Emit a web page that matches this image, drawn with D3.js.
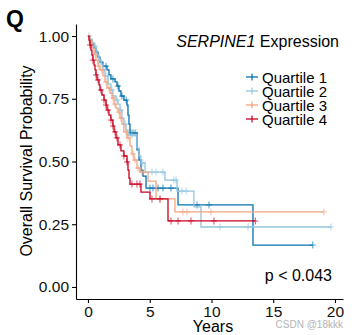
<!DOCTYPE html>
<html>
<head>
<meta charset="utf-8">
<script src="https://cdn.jsdelivr.net/npm/d3@7"></script>
<style>
  body { margin: 0; background: #fff; }
  svg text { font-family: "Liberation Sans", Arial, sans-serif; }
</style>
</head>
<body>
<div id="chart"></div>
<script>
// Kaplan-Meier steps per quartile: time (years) where survival drops, new survival value
const q1Time = [0, 0.16, 0.32, 0.49, 0.65, 0.81, 0.97, 1.21, 1.54, 1.70, 1.86, 2.19, 2.35, 2.51, 2.67, 2.91, 3.16, 3.24, 3.32, 3.40, 3.97, 4.13, 4.29, 4.45, 4.70, 7.29, 13.36];
const q1Surv = [1.0, 0.984, 0.968, 0.952, 0.936, 0.916, 0.896, 0.880, 0.865, 0.845, 0.829, 0.817, 0.801, 0.781, 0.761, 0.745, 0.725, 0.685, 0.649, 0.614, 0.546, 0.506, 0.466, 0.442, 0.394, 0.327, 0.167];
const q1Censor = [1.46, 2.02, 2.43, 2.75, 3.10, 3.48, 3.64, 3.81, 5.02, 5.26, 5.67, 6.07, 6.72, 8.83, 9.80, 18.2];

const q2Time = [0, 0.16, 0.32, 0.49, 0.65, 0.73, 0.89, 1.05, 1.21, 1.38, 1.62, 1.86, 2.02, 2.27, 2.43, 2.59, 2.75, 2.91, 3.08, 3.24, 3.97, 4.13, 4.29, 4.62, 6.23, 7.21, 8.58, 9.15];
const q2Surv = [1.0, 0.988, 0.972, 0.960, 0.944, 0.924, 0.904, 0.888, 0.865, 0.841, 0.809, 0.785, 0.761, 0.745, 0.729, 0.705, 0.673, 0.649, 0.625, 0.606, 0.554, 0.522, 0.494, 0.458, 0.426, 0.382, 0.319, 0.239];
const q2Censor = [0.08, 0.32, 0.57, 0.89, 1.30, 1.54, 1.94, 2.35, 2.67, 3.00, 3.32, 3.56, 4.45, 5.18, 5.51, 6.07, 6.96, 7.13, 7.61, 7.94, 10.69, 12.96, 19.68];

const q3Time = [0, 0.16, 0.32, 0.49, 0.65, 0.81, 0.97, 1.21, 1.38, 1.54, 1.78, 1.94, 2.11, 2.27, 2.43, 2.59, 2.75, 2.91, 3.16, 3.40, 3.56, 3.72, 3.97, 4.21, 4.86, 5.51, 7.04];
const q3Surv = [1.0, 0.976, 0.952, 0.928, 0.904, 0.880, 0.865, 0.841, 0.817, 0.793, 0.773, 0.753, 0.729, 0.713, 0.697, 0.673, 0.649, 0.618, 0.594, 0.562, 0.530, 0.506, 0.474, 0.458, 0.422, 0.351, 0.299];
const q3Censor = [0.24, 0.57, 0.89, 1.13, 1.46, 1.70, 2.02, 2.19, 2.51, 2.67, 3.08, 3.24, 3.64, 3.81, 4.05, 4.37, 5.83, 7.69, 8.02, 9.96, 19.1];

const q4Time = [0, 0.08, 0.16, 0.24, 0.32, 0.40, 0.49, 0.57, 0.65, 0.73, 0.89, 0.97, 1.13, 1.30, 1.46, 1.54, 1.70, 1.86, 2.02, 2.11, 2.27, 2.43, 2.67, 2.91, 3.16, 3.24, 3.32, 3.40, 4.29, 5.02, 6.48];
const q4Surv = [1.0, 0.984, 0.964, 0.944, 0.924, 0.904, 0.884, 0.865, 0.845, 0.825, 0.805, 0.785, 0.765, 0.745, 0.725, 0.705, 0.685, 0.665, 0.641, 0.618, 0.594, 0.566, 0.542, 0.522, 0.498, 0.466, 0.434, 0.410, 0.378, 0.351, 0.263];
const q4Censor = [0.16, 0.40, 0.65, 0.81, 1.05, 1.30, 1.46, 1.62, 1.86, 2.02, 2.19, 2.35, 2.59, 2.91, 3.16, 3.56, 3.97, 4.21, 5.18, 5.83, 6.72, 7.29, 8.34, 10.2, 13.55];

const groupNames = ["Quartile 1", "Quartile 2", "Quartile 3", "Quartile 4"];
const groupColors = ["#0571b0", "#92c5de", "#f4a582", "#ca0020"];
const xTicks = [0, 5, 10, 15, 20];
const yTicks = [0, 0.25, 0.5, 0.75, 1];

const groups = [
  {time: q1Time, surv: q1Surv, censor: q1Censor},
  {time: q2Time, surv: q2Surv, censor: q2Censor},
  {time: q3Time, surv: q3Surv, censor: q3Censor},
  {time: q4Time, surv: q4Surv, censor: q4Censor}
];

const W = 358, H = 335;
const svg = d3.select("#chart").append("svg").attr("width", W).attr("height", H);

// panel is slightly expanded beyond the data range, like ggplot
const x = d3.scaleLinear().domain([-0.97, 20.65]).range([76, 343]);
const y = d3.scaleLinear().domain([-0.048, 1.048]).range([299, 24]);

const xAxis = svg.append("g")
  .attr("transform", "translate(0,299)")
  .call(d3.axisBottom(x).tickValues(xTicks).tickSize(4).tickSizeOuter(0).tickPadding(3));
const yAxis = svg.append("g")
  .attr("transform", "translate(76,0)")
  .call(d3.axisLeft(y).tickValues(yTicks).tickSize(4).tickSizeOuter(0).tickPadding(3).tickFormat(d3.format(".2f")));

[xAxis, yAxis].forEach(a => {
  a.select(".domain").attr("stroke", "#000").attr("stroke-width", 1.1);
  a.selectAll(".tick line").attr("stroke", "#000").attr("stroke-width", 1.1);
  a.selectAll(".tick text").attr("fill", "#111").style("font-size", "15.5px");
});

const stepLine = d3.line().x(d => x(d[0])).y(d => y(d[1])).curve(d3.curveStepAfter);

// survival value at time t
function survAt(g, t) {
  let s = 1;
  for (let i = 0; i < g.time.length; i++) if (g.time[i] <= t) s = g.surv[i];
  return s;
}

groups.forEach((g, k) => {
  const pts = g.time.map((t, i) => [t, g.surv[i]]);
  const end = d3.max(g.censor);
  pts.push([end, g.surv[g.surv.length - 1]]);
  svg.append("path")
    .attr("d", stepLine(pts))
    .attr("fill", "none")
    .attr("stroke", groupColors[k])
    .attr("stroke-width", 1.3);

  const marks = svg.append("g").attr("stroke", groupColors[k]).attr("stroke-width", 1.2).attr("opacity", 0.6);
  g.censor.forEach(t => {
    const cx = x(t), cy = y(survAt(g, t));
    marks.append("line").attr("x1", cx).attr("x2", cx).attr("y1", cy - 3.5).attr("y2", cy + 3.5);
    marks.append("line").attr("x1", cx - 3).attr("x2", cx + 3).attr("y1", cy).attr("y2", cy);
  });
});

// titles and labels
svg.append("text").attr("x", 6).attr("y", 27)
  .style("font-size", "23px").style("font-weight", "bold").text("Q");

const title = svg.append("text").attr("x", 339).attr("y", 47).attr("text-anchor", "end")
  .style("font-size", "16px");
title.append("tspan").style("font-style", "italic").text("SERPINE1");
title.append("tspan").text(" Expression");

svg.append("text")
  .attr("transform", "translate(32,161) rotate(-90)")
  .attr("text-anchor", "middle").style("font-size", "16px")
  .text("Overall Survival Probability");

svg.append("text").attr("x", 213).attr("y", 332).attr("text-anchor", "middle")
  .style("font-size", "16px").text("Years");

svg.append("text").attr("x", 332).attr("y", 281).attr("text-anchor", "end")
  .style("font-size", "16px").text("p < 0.043");

// legend
const legend = svg.append("g");
groupNames.forEach((name, i) => {
  const ly = 77 + i * 14;
  legend.append("line").attr("x1", 246).attr("x2", 258).attr("y1", ly).attr("y2", ly)
    .attr("stroke", groupColors[i]).attr("stroke-width", 1.3);
  legend.append("line").attr("x1", 252).attr("x2", 252).attr("y1", ly - 3.5).attr("y2", ly + 3.5)
    .attr("stroke", groupColors[i]).attr("stroke-width", 1.2);
  legend.append("text").attr("x", 262).attr("y", ly + 5.5)
    .style("font-size", "15px").text(name);
});

svg.append("text").attr("x", 343).attr("y", 328).attr("text-anchor", "end")
  .style("font-size", "10px").attr("fill", "#b4b4b4").text("CSDN @18kkk");
</script>
</body>
</html>
